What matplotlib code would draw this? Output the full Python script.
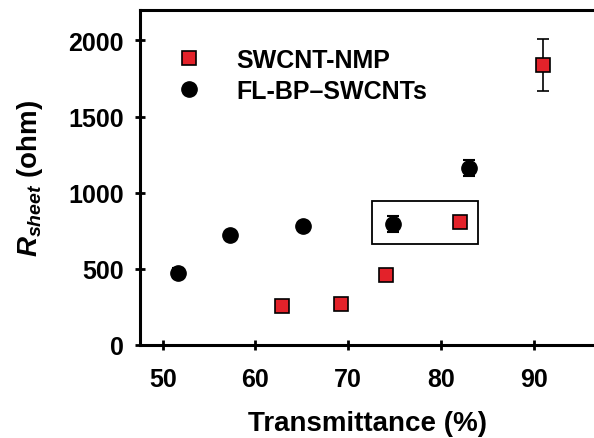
import numpy as np
import matplotlib
matplotlib.use("Agg")
import matplotlib.pyplot as plt
from matplotlib.patches import Rectangle

plt.rcParams["font.family"] = ["Liberation Sans", "DejaVu Sans"]
plt.rcParams["font.weight"] = "bold"
plt.rcParams["mathtext.fontset"] = "custom"
plt.rcParams["mathtext.it"] = "Liberation Sans:italic:bold"
plt.rcParams["mathtext.rm"] = "Liberation Sans:bold"

# SWCNT-NMP (red squares)
nmp_t = [62.9, 69.2, 74.1, 82.0, 91.0]
nmp_r = [256, 271, 458, 806, 1840]
nmp_err = [25, 25, 37, 30, 172]

# FL-BP-SWCNTs (black circles)
bp_t = [51.7, 57.3, 65.1, 74.8, 83.0]
bp_r = [473, 725, 780, 795, 1163]
bp_err = [30, 20, 20, 53, 50]

# highlighted region
box_t = [72.6, 84.0]
box_r = [664, 948]

fig = plt.figure(figsize=(5.94, 4.39), dpi=100)
ax = fig.add_axes([140/594, 1-346/439, 454/594, 335/439])

ax.errorbar(nmp_t, nmp_r, yerr=nmp_err, fmt="s", color="black", ecolor="black",
            mfc="#e3222a", mec="black", mew=1.2, ms=9.5, capsize=4.5, elinewidth=1.2,
            capthick=1.3, label="SWCNT-NMP", zorder=3)
ax.errorbar(bp_t, bp_r, yerr=bp_err, fmt="o", color="black", ecolor="black",
            mfc="black", mec="black", ms=11, capsize=4.5, elinewidth=1.2,
            capthick=1.5, label="FL-BP\u2013SWCNTs", zorder=3)

ax.add_patch(Rectangle((box_t[0], box_r[0]), box_t[1]-box_t[0], box_r[1]-box_r[0],
                       fill=False, edgecolor="black", lw=1.3, zorder=2))

ax.set_xlim(47.55, 96.5)
ax.set_ylim(0, 2200)
ax.set_xticks([50, 60, 70, 80, 90])
ax.set_yticks([0, 500, 1000, 1500, 2000])
ax.spines["right"].set_visible(False)
for s in ["left", "bottom", "top"]:
    ax.spines[s].set_linewidth(2.2)
ax.tick_params(direction="inout", length=7, width=2, labelsize=18)
ax.tick_params(axis="x", pad=12)
ax.tick_params(axis="y", pad=8)

ax.set_xlabel("Transmittance (%)", fontsize=20, fontweight="bold", labelpad=14)
ax.set_ylabel("$R_{sheet}$ (ohm)", fontsize=20, fontweight="bold", labelpad=17)

h, l = ax.get_legend_handles_labels()
h = [hh[0] for hh in h]
leg = ax.legend(h, l, loc="upper left", bbox_to_anchor=(0.03, 0.955), frameon=False,
                fontsize=18, handletextpad=1.4, labelspacing=0.3, handlelength=1.0)

fig.savefig("out.png", dpi=100)
